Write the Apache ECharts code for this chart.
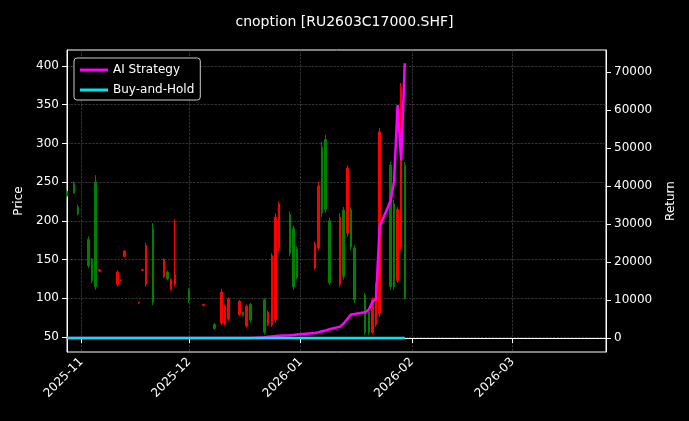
<!DOCTYPE html>
<html><head><meta charset="utf-8">
<script src="https://cdn.jsdelivr.net/npm/echarts@6/dist/echarts.min.js"></script>
<style>html,body{margin:0;background:#000}#c{width:689px;height:421px}</style>
</head><body><div id="c"></div>
<script>
// [date, open, close, low, high]
const candles = [
['2025-10-28',238,232,230,240],
['2025-10-30',248,236,235,251],
['2025-10-31',218,209,207,221],
['2025-11-03',176,142,139,180],
['2025-11-04',150,123,120,152],
['2025-11-05',250,115,111,259],
['2025-11-06',135,137,135,137],
['2025-11-11',118,134,115,136],
['2025-11-12',123,124,122,124],
['2025-11-13',154,161,153,162],
['2025-11-17',94,95,93,95],
['2025-11-18',136,137,135,137],
['2025-11-19',118,168,115,172],
['2025-11-21',190,95,91,197],
['2025-11-24',128,150,126,152],
['2025-11-25',134,125,123,136],
['2025-11-26',112,124,110,126],
['2025-11-27',118,130,115,202],
['2025-12-01',110,98,94,113],
['2025-12-05',91,92,90,92],
['2025-12-08',66,61,59,68],
['2025-12-10',68,108,65,112],
['2025-12-11',67,90,65,92],
['2025-12-12',73,99,71,101],
['2025-12-15',79,96,77,98],
['2025-12-16',82,78,76,83],
['2025-12-17',64,90,62,92],
['2025-12-18',92,72,68,94],
['2025-12-22',98,56,53,100],
['2025-12-23',66,82,64,84],
['2025-12-24',66,155,63,158],
['2025-12-25',72,205,68,210],
['2025-12-26',165,222,160,225],
['2025-12-29',208,158,154,212],
['2025-12-30',190,115,111,194],
['2025-12-31',164,127,124,167],
['2026-01-05',139,170,137,173],
['2026-01-06',165,245,162,250],
['2026-01-07',295,210,205,302],
['2026-01-08',305,215,210,311],
['2026-01-09',200,120,117,204],
['2026-01-12',118,205,115,210],
['2026-01-13',214,128,124,218],
['2026-01-14',184,268,180,272],
['2026-01-15',214,166,162,218],
['2026-01-16',165,98,94,169],
['2026-01-19',104,56,53,107],
['2026-01-20',82,56,53,84],
['2026-01-21',56,98,53,101],
['2026-01-22',66,117,63,120],
['2026-01-23',80,315,76,320],
['2026-01-26',272,115,111,276],
['2026-01-27',222,115,111,227],
['2026-01-28',123,215,120,218],
['2026-01-29',166,372,162,378],
['2026-01-30',272,100,98,276]
];
const strategy = [0,0,0,0,0,0,0,0,0,0,0,0,0,0,0,0,0,0,0,0,0,0,0,0,0,0,0,0,
 200,300,400,500,600,700,800,900,1300,1500,1800,2000,2300,3000,3800,5000,6200,6300,
 6800,7500,9500,10400,29300,36000,41000,61300,46800,72300];
const buyHold = candles.map(()=>0);
const priceTicks = [50,100,150,200,250,300,350,400];
const returnTicks = [0,10000,20000,30000,40000,50000,60000,70000];
const monthTicks = ['2025-11-01','2025-12-01','2026-01-01','2026-02-01','2026-03-01'];

const dates = candles.map(c=>c[0]);
const ts = s=>Date.UTC(+s.slice(0,4),+s.slice(5,7)-1,+s.slice(8,10));
const monthTs = monthTicks.map(ts);
const chart = echarts.init(document.getElementById('c'));
const gl = {show:true,lineStyle:{color:'#555',type:'dashed',width:0.6}};
const font = {color:'#fff',fontSize:12,fontFamily:'DejaVu Sans'};
chart.setOption({
 backgroundColor:'#000',
 animation:false,
 title:{text:'cnoption [RU2603C17000.SHF]',left:'center',top:10,textStyle:{color:'#fff',fontSize:14,fontWeight:'normal',fontFamily:'DejaVu Sans'}},
 legend:{left:74,top:58,orient:'vertical',itemGap:8,itemWidth:28,itemHeight:3,
   backgroundColor:'#000',borderColor:'#ccc',borderWidth:1,borderRadius:3,padding:[6,6,4,6],
   textStyle:font,
   data:[{name:'AI Strategy',icon:'rect'},{name:'Buy-and-Hold',icon:'rect'}]},
 grid:{left:67,right:83,top:50,bottom:69,show:true,borderColor:'#fff',borderWidth:1,backgroundColor:'transparent'},
 xAxis:{type:'value',min:ts('2025-10-28'),max:ts('2026-03-27'),
   axisLine:{lineStyle:{color:'#fff'}},axisTick:{customValues:monthTs,lineStyle:{color:'#fff'}},
   axisLabel:Object.assign({customValues:monthTs,rotate:45,
     formatter:v=>{const d=new Date(v);return d.getUTCFullYear()+'-'+String(d.getUTCMonth()+1).padStart(2,'0');}},font),
   splitLine:gl},
 yAxis:[
  {type:'value',min:30.6,max:420.7,name:'Price',nameLocation:'middle',nameGap:40,nameRotate:90,
   nameTextStyle:font,
   axisLine:{show:true,lineStyle:{color:'#fff'}},axisTick:{show:true,customValues:priceTicks},
   axisLabel:Object.assign({customValues:priceTicks},font),splitLine:gl},
  {type:'value',min:-3684,max:75790,name:'Return',nameLocation:'middle',nameGap:59,nameRotate:90,
   nameTextStyle:font,
   axisLine:{show:true,lineStyle:{color:'#fff'}},axisTick:{show:true,customValues:returnTicks},
   axisLabel:Object.assign({customValues:returnTicks,formatter:v=>String(v)},font),splitLine:{show:false}}
 ],
 series:[
  {type:'candlestick',yAxisIndex:0,barWidth:2,
   data:candles.map(c=>[ts(c[0]),c[1],c[2],c[3],c[4]]),
   itemStyle:{color:'#ff0000',color0:'#008000',borderColor:'#ff0000',borderColor0:'#008000',borderWidth:1}},
  {type:'line',name:'AI Strategy',yAxisIndex:1,showSymbol:false,color:'#ff00ff',lineStyle:{width:2.5,color:'#ff00ff'},
   data:dates.map((d,i)=>[ts(d),strategy[i]]),z:5},
  {type:'line',name:'Buy-and-Hold',yAxisIndex:1,showSymbol:false,color:'#00e5ee',lineStyle:{width:2.5,color:'#00e5ee'},
   data:dates.map((d,i)=>[ts(d),buyHold[i]]),z:6}
 ]
});
</script></body></html>
